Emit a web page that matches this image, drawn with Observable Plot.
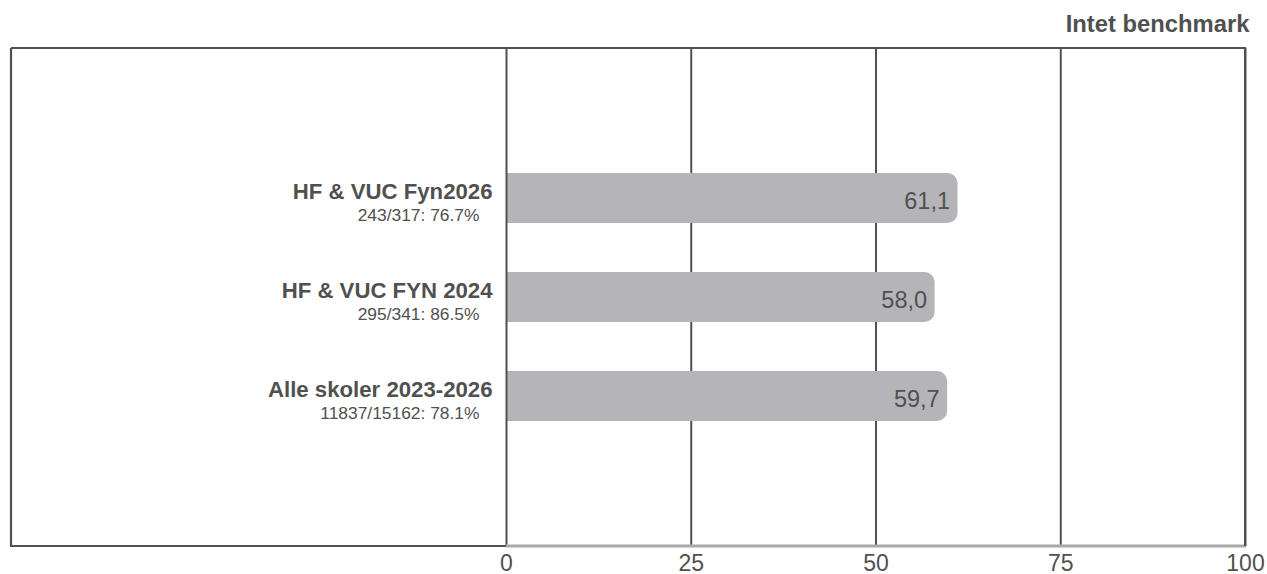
<!DOCTYPE html>
<html>
<head>
<meta charset="utf-8">
<script src="https://cdn.jsdelivr.net/npm/d3@7"></script>
<script src="https://cdn.jsdelivr.net/npm/@observablehq/plot@0.6"></script>
<style>
  html, body { margin: 0; padding: 0; background: #fff; }
  #chart svg { display: block; font-family: "Liberation Sans", Arial, sans-serif; }
</style>
</head>
<body>
<div id="chart"></div>
<script>
const categories = ["HF & VUC Fyn2026", "HF & VUC FYN 2024", "Alle skoler 2023-2026"];
const values = [61.1, 58.0, 59.7];
const responses = ["243/317: 76.7%", "295/341: 86.5%", "11837/15162: 78.1%"];
const xTicks = [0, 25, 50, 75, 100];
const title = "Intet benchmark";

const data = categories.map((name, i) => ({ name, value: values[i], resp: responses[i] }));
const fmt = v => v.toFixed(1).replace(".", ",");

const ink = "#505050";
const barColor = "#b5b5b9";

const chart = Plot.plot({
  width: 1267,
  height: 574,
  marginLeft: 506,
  marginRight: 22,
  marginTop: 48,
  marginBottom: 28,
  style: { fontFamily: "'Liberation Sans', Arial, sans-serif", background: "#fff", overflow: "visible" },
  x: { domain: [0, 100], label: null },
  y: { domain: categories, paddingInner: 0.5, paddingOuter: 1.246, axis: null },
  marks: [
    Plot.ruleX(xTicks.filter(d => d !== 0), { stroke: ink, strokeWidth: 2 }),
    Plot.barX(data, { y: "name", x1: 0, x2: "value", fill: barColor, rx: 10 }),
    Plot.barX(data, { y: "name", x1: 0, x2: "value", fill: barColor, insetRight: 14 }),
    Plot.ruleX([0], { stroke: ink, strokeWidth: 2 }),
    Plot.text(data, { x: "value", y: "name", text: d => fmt(d.value), textAnchor: "end", lineAnchor: "bottom", dx: -8, dy: 10, fontSize: 23.5, fill: ink }),
    Plot.text(data, { y: "name", text: "name", frameAnchor: "left", textAnchor: "end", lineAnchor: "bottom", dx: -14, dy: 0.5, fontSize: 22.2, fontWeight: "bold", fill: ink }),
    Plot.text(data, { y: "name", text: "resp", frameAnchor: "left", textAnchor: "end", lineAnchor: "bottom", dx: -27, dy: 22, fontSize: 17.4, fill: ink }),
    Plot.text([title], { frameAnchor: "top-right", textAnchor: "end", lineAnchor: "bottom", dx: 4, dy: -17, fontSize: 23.8, fontWeight: "bold", fill: ink }),
    Plot.axisX({ ticks: xTicks, tickSize: 0, tickPadding: 8, fontSize: 23, fill: ink, label: null, tickFormat: d => String(d) })
  ]
});

document.getElementById("chart").appendChild(chart);

// Decorative outer frame, computed from the x scale and plot layout
const sx = chart.scale("x");
const x0 = sx.apply(0), x100 = sx.apply(100);
const frameTop = 48, frameBottom = 574 - 28, frameLeft = 11;
const svgSel = d3.select(chart);
const g = svgSel.append("g").attr("fill", "none");
g.append("line").attr("x1", frameLeft).attr("x2", x100 + 1).attr("y1", frameTop).attr("y2", frameTop).attr("stroke", ink).attr("stroke-width", 2.2);
g.append("line").attr("x1", frameLeft).attr("x2", frameLeft).attr("y1", frameTop).attr("y2", frameBottom).attr("stroke", ink).attr("stroke-width", 2.2);
g.append("line").attr("x1", frameLeft - 1).attr("x2", x0).attr("y1", frameBottom).attr("y2", frameBottom).attr("stroke", ink).attr("stroke-width", 2.2);
g.append("line").attr("x1", x0).attr("x2", x100 + 1).attr("y1", frameBottom).attr("y2", frameBottom).attr("stroke", "#aaaaaa").attr("stroke-width", 3);
g.append("line").attr("x1", x100).attr("x2", x100).attr("y1", frameTop).attr("y2", frameBottom).attr("stroke", ink).attr("stroke-width", 2);
</script>
</body>
</html>
